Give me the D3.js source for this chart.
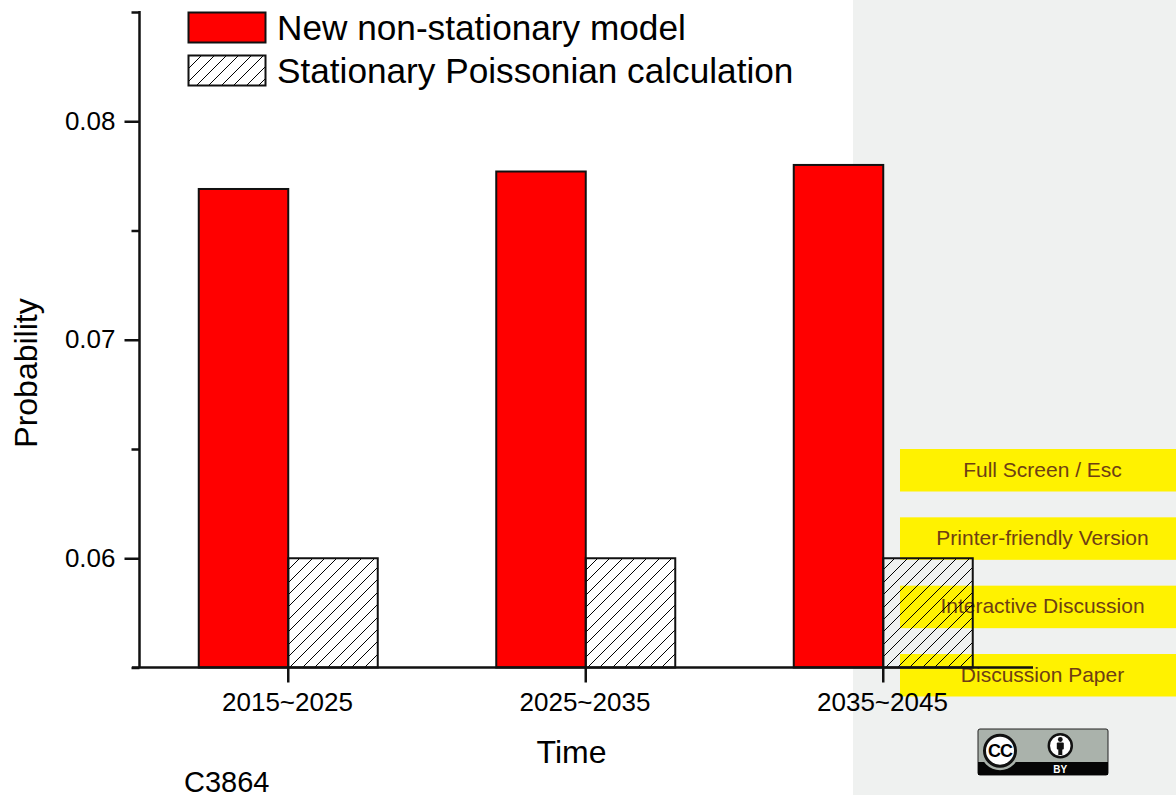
<!DOCTYPE html>
<html>
<head>
<meta charset="utf-8">
<script src="https://cdn.jsdelivr.net/npm/d3@7"></script>
<style>
  html, body { margin: 0; padding: 0; background: #fff; }
  svg { display: block; }
  text { font-family: "Liberation Sans", Arial, sans-serif; fill: #000; }
</style>
</head>
<body>
<svg id="chart" width="1176" height="795"></svg>
<script>
const periods = ["2015~2025", "2025~2035", "2035~2045"];
const seriesNames = ["New non-stationary model", "Stationary Poissonian calculation"];
const nonStationary = [0.0769, 0.0777, 0.078];
const poissonian = [0.06, 0.06, 0.06];
const yMajorTicks = [0.06, 0.07, 0.08];
const yMinorTicks = [0.055, 0.065, 0.075, 0.085];
const navLabels = ["Full Screen / Esc", "Printer-friendly Version", "Interactive Discussion", "Discussion Paper"];

const svg = d3.select("#chart");
const defs = svg.append("defs");

const x = d3.scaleBand().domain(periods).range([139.5, 1032]);
const y = d3.scaleLinear().domain([0.055, 0.085]).range([667.5, 12]);
const barWidth = 89.5;

// hatch as real aliased lines clipped to the box, a pattern fill comes out blurry.
// ends are snapped to whole pixels so every line stays exactly 45 degrees
const hatchGap = 12.4;
function drawHatch(id, bx, by, bw, bh, phase) {
  defs.append("clipPath").attr("id", id)
    .append("rect").attr("x", bx).attr("y", by).attr("width", bw).attr("height", bh);
  const first = Math.floor((bx + by - phase) / hatchGap);
  const last = Math.ceil((bx + bw + by + bh - phase) / hatchGap);
  const sums = d3.range(first, last + 1).map((k) => Math.round(k * hatchGap + phase));
  const top = Math.floor(by);
  const span = Math.ceil(bh) + 1;
  svg.append("g").attr("clip-path", `url(#${id})`)
    .selectAll("line").data(sums).join("line")
    .attr("x1", (s) => s - top).attr("y1", top)
    .attr("x2", (s) => s - top - span).attr("y2", top + span)
    .attr("stroke", "#000")
    .attr("stroke-width", 1)
    .attr("shape-rendering", "crispEdges");
}

// discussion paper side panel, sits behind the plot
svg.append("rect")
  .attr("x", 853).attr("y", 0)
  .attr("width", 323).attr("height", 795)
  .attr("fill", "#eff1f0");

const navY = d3.scalePoint().domain(navLabels).range([470, 675]);
svg.selectAll(".nav-band").data(navLabels).join("rect")
  .attr("class", "nav-band")
  .attr("x", 900)
  .attr("y", (d) => navY(d) - 21)
  .attr("width", 276)
  .attr("height", 42.5)
  .attr("fill", "#fff200");
svg.selectAll(".nav-label").data(navLabels).join("text")
  .attr("class", "nav-label")
  .attr("x", 1042.5)
  .attr("y", (d) => navY(d) + 6.5)
  .attr("text-anchor", "middle")
  .attr("font-size", 21)
  .style("fill", "#6e3f14")
  .text((d) => d);

// bars
svg.selectAll(".bar-a").data(nonStationary).join("rect")
  .attr("class", "bar-a")
  .attr("x", (d, i) => x(periods[i]) + x.bandwidth() / 2 - barWidth)
  .attr("y", (d) => y(d))
  .attr("width", barWidth)
  .attr("height", (d) => y(0.055) - y(d))
  .attr("fill", "#ff0000")
  .attr("stroke", "#111")
  .attr("stroke-width", 2);
poissonian.forEach((d, i) => {
  drawHatch(`bar-clip-${i}`, x(periods[i]) + x.bandwidth() / 2, y(d), barWidth, y(0.055) - y(d), 2.6);
});
svg.selectAll(".bar-b").data(poissonian).join("rect")
  .attr("class", "bar-b")
  .attr("x", (d, i) => x(periods[i]) + x.bandwidth() / 2)
  .attr("y", (d) => y(d))
  .attr("width", barWidth)
  .attr("height", (d) => y(0.055) - y(d))
  .attr("fill", "none")
  .attr("stroke", "#111")
  .attr("stroke-width", 2);

// y axis, major and minor ticks drawn as two d3 axes
const yMajor = svg.append("g")
  .attr("transform", "translate(139.5,0)")
  .call(d3.axisLeft(y).tickValues(yMajorTicks).tickSize(15).tickPadding(9).tickFormat(d3.format(".2f")));
const yMinor = svg.append("g")
  .attr("transform", "translate(139.5,0)")
  .call(d3.axisLeft(y).tickValues(yMinorTicks).tickSize(8).tickFormat(""));
yMajor.selectAll("text").attr("font-size", 26).attr("font-family", null).attr("dy", "0.3em").style("fill", "#000");
[yMajor, yMinor].forEach((a) => {
  a.selectAll("line").attr("stroke", "#111").attr("stroke-width", 2.5);
  a.select(".domain").remove();
});
svg.append("line")
  .attr("x1", 139.5).attr("x2", 139.5)
  .attr("y1", y(0.085) - 1).attr("y2", y(0.055))
  .attr("stroke", "#111").attr("stroke-width", 2.5);

// x axis
const xAxis = svg.append("g")
  .attr("transform", `translate(0,${y(0.055)})`)
  .call(d3.axisBottom(x).tickSize(15).tickPadding(10));
xAxis.select(".domain").remove();
xAxis.selectAll("line").attr("stroke", "#111").attr("stroke-width", 2.5);
xAxis.selectAll("text").attr("font-size", 26).attr("font-family", null).attr("dx", -0.8).style("fill", "#000");
svg.append("line")
  .attr("x1", 132).attr("x2", 1033)
  .attr("y1", y(0.055)).attr("y2", y(0.055))
  .attr("stroke", "#111").attr("stroke-width", 2.5);

// axis titles
svg.append("text")
  .attr("x", 571.5).attr("y", 763)
  .attr("text-anchor", "middle")
  .attr("font-size", 32)
  .text("Time");
svg.append("text")
  .attr("transform", "translate(36.5,373) rotate(-90)")
  .attr("text-anchor", "middle")
  .attr("font-size", 32)
  .text("Probability");

// legend
const legendY = d3.scalePoint().domain(seriesNames).range([28, 71]);
const legendFills = ["#ff0000", "none"];
drawHatch("key-clip", 188.5, legendY(seriesNames[1]) - 15.5, 77, 30, 9.2);
svg.selectAll(".legend-key").data(seriesNames).join("rect")
  .attr("class", "legend-key")
  .attr("x", 188.5)
  .attr("y", (d) => legendY(d) - 15.5)
  .attr("width", 77)
  .attr("height", 30)
  .attr("fill", (d, i) => legendFills[i])
  .attr("stroke", "#111")
  .attr("stroke-width", 2);
svg.selectAll(".legend-label").data(seriesNames).join("text")
  .attr("class", "legend-label")
  .attr("x", 277)
  .attr("y", (d) => legendY(d) + 12)
  .attr("font-size", 35.2)
  .text((d) => d);

// page number
svg.append("text")
  .attr("x", 184).attr("y", 791.5)
  .attr("font-size", 29)
  .text("C3864");

// CC BY badge
const badge = svg.append("g").attr("transform", "translate(978,729)");
badge.append("rect").attr("width", 130).attr("height", 46).attr("rx", 2).attr("fill", "#aab2ab").attr("stroke", "#222").attr("stroke-width", 1);
badge.append("rect").attr("y", 33).attr("width", 130).attr("height", 13).attr("fill", "#050505");
badge.append("circle").attr("cx", 22).attr("cy", 21.7).attr("r", 19.5).attr("fill", "#aab2ab");
badge.append("circle").attr("cx", 22).attr("cy", 21.7).attr("r", 15.5).attr("fill", "#fff").attr("stroke", "#111").attr("stroke-width", 3);
badge.append("text").attr("x", 22).attr("y", 28).attr("text-anchor", "middle")
  .attr("font-size", 18).attr("font-weight", "bold").attr("letter-spacing", -1).text("CC");
badge.append("circle").attr("cx", 82.3).attr("cy", 16.7).attr("r", 11.5).attr("fill", "#fff").attr("stroke", "#111").attr("stroke-width", 2.5);
badge.append("circle").attr("cx", 82.3).attr("cy", 10.5).attr("r", 2.4).attr("fill", "#111");
badge.append("rect").attr("x", 78.8).attr("y", 13.5).attr("width", 7).attr("height", 7).attr("rx", 1).attr("fill", "#111");
badge.append("rect").attr("x", 80.3).attr("y", 20).attr("width", 4).attr("height", 6).attr("fill", "#111");
badge.append("text").attr("x", 82.3).attr("y", 44).attr("text-anchor", "middle")
  .attr("font-size", 10).attr("font-weight", "bold").style("fill", "#fff").text("BY");
</script>
</body>
</html>
